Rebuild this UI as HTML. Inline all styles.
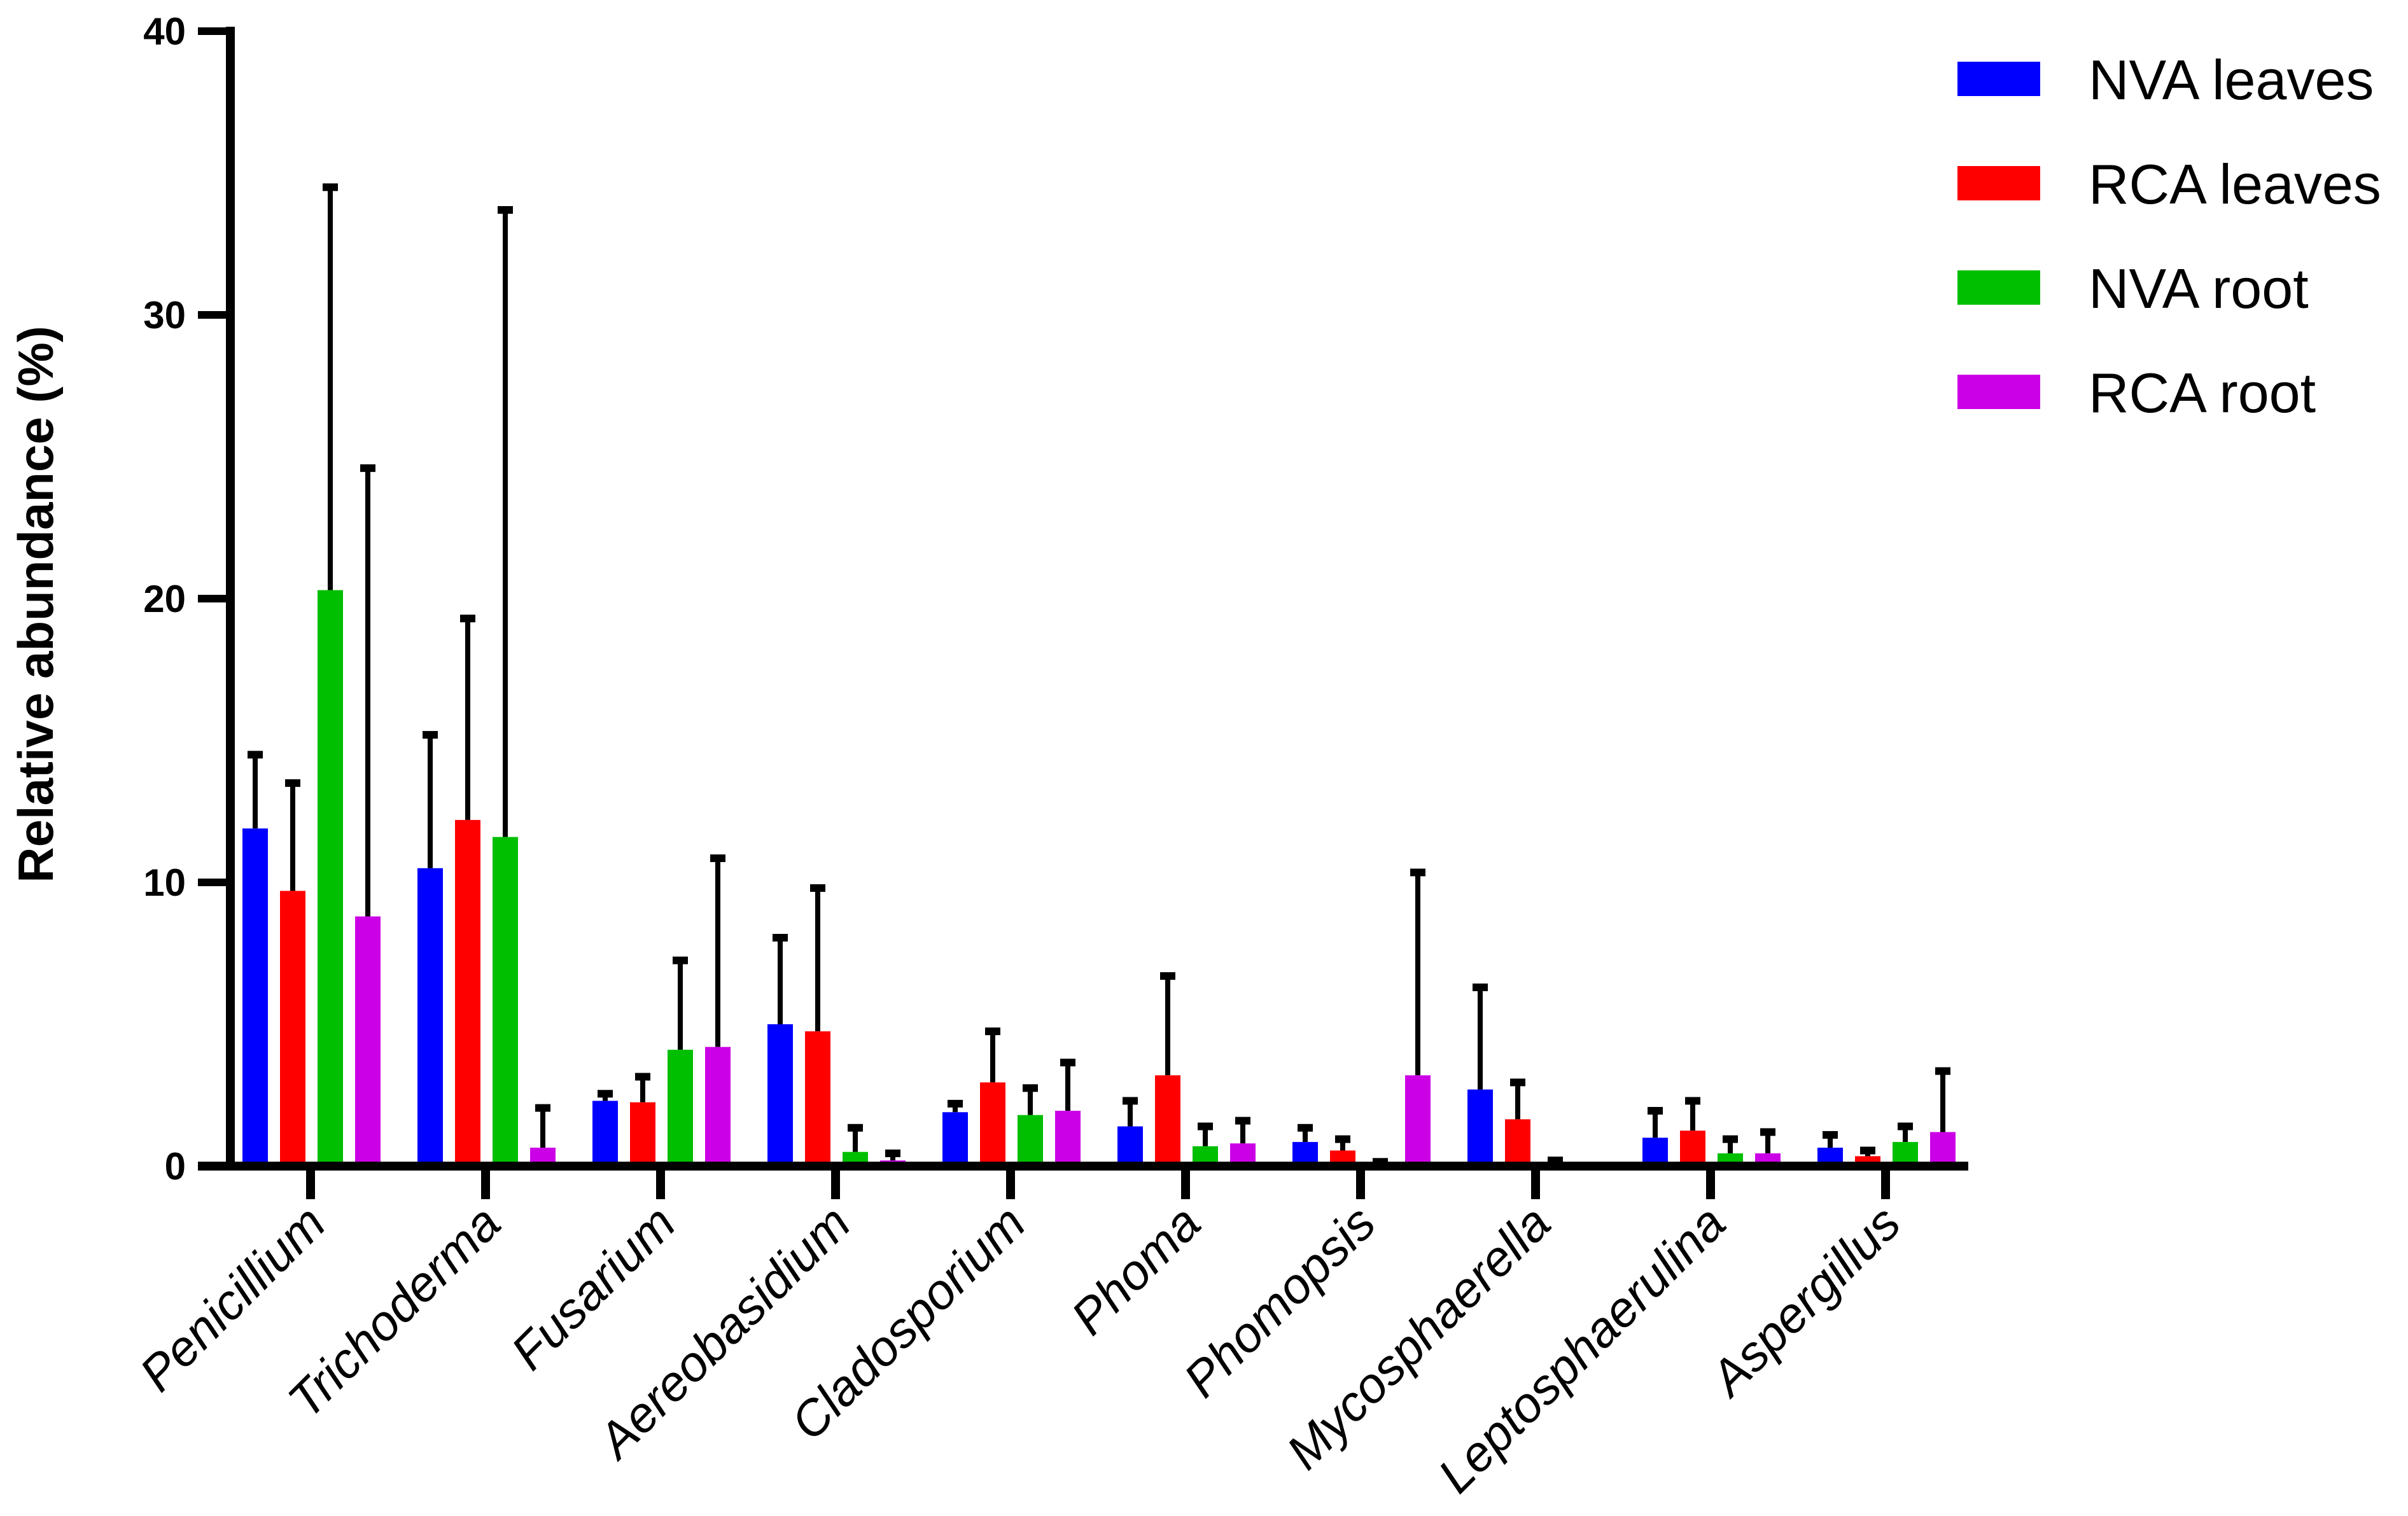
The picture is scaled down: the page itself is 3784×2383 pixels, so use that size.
<!DOCTYPE html>
<html><head><meta charset="utf-8"><style>
html,body{margin:0;padding:0;background:#fff;}
svg{display:block;}
</style></head><body>
<svg id="chart" width="3784" height="2383" viewBox="0 0 3784 2383" xmlns="http://www.w3.org/2000/svg" font-family="Liberation Sans, sans-serif">
<g id="plot"></g>
<text transform="translate(83,950) rotate(-90)" text-anchor="middle" font-size="78" font-weight="bold">Relative abundance (%)</text>
<g font-size="88">
  <g><rect x="3076" y="97" width="130" height="54" fill="#0000ff"/><text x="3282" y="156">NVA leaves</text></g>
  <g><rect x="3076" y="261" width="130" height="54" fill="#ff0000"/><text x="3282" y="320">RCA leaves</text></g>
  <g><rect x="3076" y="425" width="130" height="54" fill="#00bf00"/><text x="3282" y="484">NVA root</text></g>
  <g><rect x="3076" y="589" width="130" height="54" fill="#cc00e6"/><text x="3282" y="648">RCA root</text></g>
</g>
</svg>
<script>
const categories = ["Penicillium","Trichoderma","Fusarium","Aereobasidium","Cladosporium","Phoma","Phomopsis","Mycosphaerella","Leptosphaerulina","Aspergillus"];
const nvaLeaves = [11.9,10.5,2.3,5.0,1.9,1.4,0.85,2.7,1.0,0.65];
const nvaLeavesErr = [2.6,4.7,0.25,3.05,0.3,0.9,0.5,3.6,0.95,0.45];
const rcaLeaves = [9.7,12.2,2.25,4.75,2.95,3.2,0.55,1.65,1.25,0.35];
const rcaLeavesErr = [3.8,7.1,0.9,5.05,1.8,3.5,0.4,1.3,1.05,0.2];
const nvaRoot = [20.3,11.6,4.1,0.5,1.8,0.7,0.05,0.05,0.45,0.85];
const nvaRootErr = [14.2,22.1,3.15,0.85,0.95,0.7,0.1,0.15,0.5,0.55];
const rcaRoot = [8.8,0.65,4.2,0.2,1.95,0.8,3.2,0,0.45,1.2];
const rcaRootErr = [15.8,1.4,6.65,0.25,1.7,0.8,7.15,0,0.75,2.15];
const yTicks = [0,10,20,30,40];

const NS = "http://www.w3.org/2000/svg";
const plot = document.getElementById('plot');
const y = v => 1833 - 44.6 * v;
const xc = i => 488 + 275 * i;
function mk(tag, attrs){ const e = document.createElementNS(NS, tag); for (const k in attrs) e.setAttribute(k, attrs[k]); plot.appendChild(e); return e; }

const series = [
  {vals:nvaLeaves, err:nvaLeavesErr, color:"#0000ff", off:-107, key:"nva-leaves"},
  {vals:rcaLeaves, err:rcaLeavesErr, color:"#ff0000", off:-48, key:"rca-leaves"},
  {vals:nvaRoot, err:nvaRootErr, color:"#00bf00", off:11, key:"nva-root"},
  {vals:rcaRoot, err:rcaRootErr, color:"#cc00e6", off:70, key:"rca-root"}
];
series.forEach(s => {
  s.vals.forEach((v, i) => {
    const x = xc(i) + s.off;
    const top = s.vals[i] + s.err[i];
    if (s.err[i] > 0) {
      const l = mk('line', {x1:x+20, x2:x+20, y1:y(top), y2:y(v), stroke:"#000", 'stroke-width':8});
      
      
      const c = mk('rect', {x:x+8, y:y(top)-6, width:24, height:12, fill:"#000"});
      
      
    }
    const r = mk('rect', {x:x, y:y(v), width:40, height:Math.max(0, y(0)-y(v)), fill:s.color});
    
    
  });
});

const ya = mk('line', {x1:362, x2:362, y1:y(40)-7, y2:y(0)+7, stroke:"#000", 'stroke-width':14});


const xa = mk('line', {x1:311, x2:3093, y1:y(0), y2:y(0), stroke:"#000", 'stroke-width':14});



yTicks.forEach(t => {
  const tl = mk('line', {x1:311, x2:362, y1:y(t), y2:y(t), stroke:"#000", 'stroke-width':12});
  
  
  const tx = mk('text', {x:292, y:y(t)+21, 'text-anchor':'end', 'font-size':60, 'font-weight':'bold'});
  tx.textContent = t;
  
  
});

categories.forEach((c, i) => {
  const tl = mk('line', {x1:xc(i), x2:xc(i), y1:y(0), y2:1885, stroke:"#000", 'stroke-width':14});
  
  
  const tx = mk('text', {transform:`translate(${xc(i)+28},1928) rotate(-45)`, 'text-anchor':'end', 'font-size':78, 'font-style':'italic'});
  tx.textContent = c;
  
  
});
</script>
</body></html>
